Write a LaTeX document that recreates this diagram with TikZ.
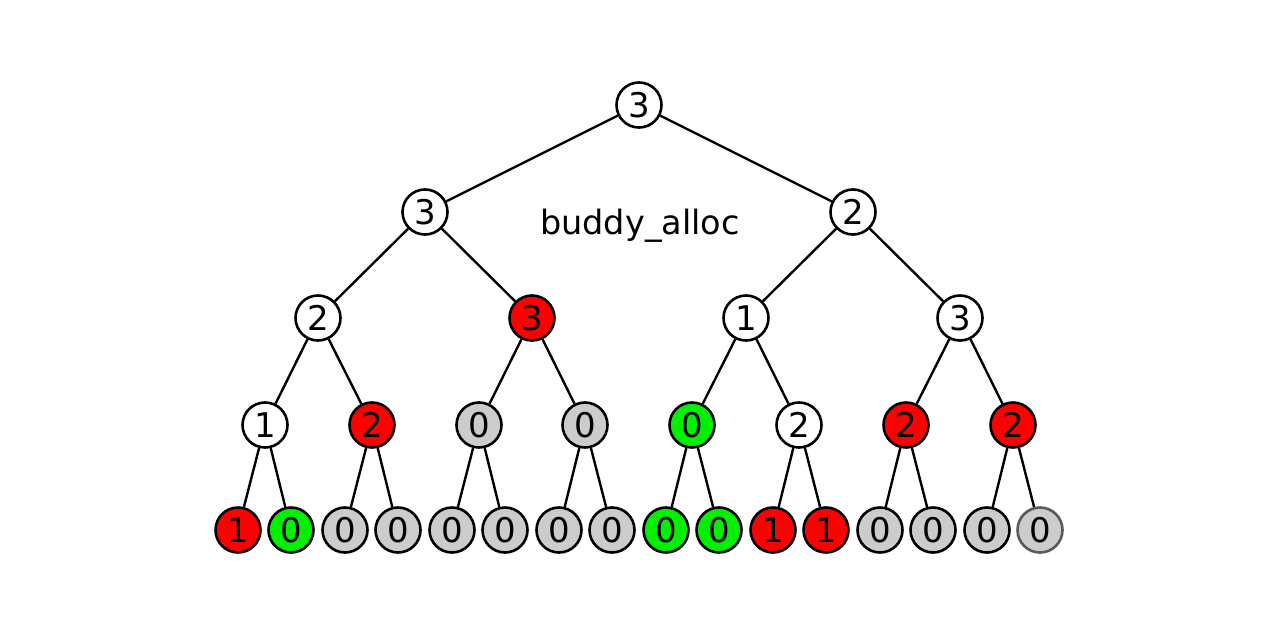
\documentclass[tikz,border=0pt]{standalone}
\usepackage{fontspec}
\setmainfont{DejaVu Sans}
\definecolor{nred}{HTML}{FF0000}
\definecolor{ngreen}{HTML}{00F000}
\definecolor{ngray}{HTML}{CCCCCC}
\definecolor{faint}{HTML}{5A5A5A}
\begin{document}
\begin{tikzpicture}[x=1pt,y=-1pt,
  tn/.style={circle,draw=black,line width=2.6pt,minimum size=45pt,inner sep=0pt,
    font=\fontsize{34}{40}\selectfont},
  wn/.style={tn,fill=white},
  rn/.style={tn,fill=nred},
  gn/.style={tn,fill=ngreen},
  yn/.style={tn,fill=ngray},
  edge/.style={line width=2.4pt,black}]
\useasboundingbox (0,0) rectangle (1280,640);
\node[wn] (r) at (639,105) {3};
\node[wn] (a) at (425,212) {3};
\node[wn] (b) at (853,212) {2};
\node[wn] (aa) at (318,318) {2};
\node[rn] (ab) at (532,318) {3};
\node[wn] (ba) at (746,318) {1};
\node[wn] (bb) at (960,318) {3};
\node[wn] (c1) at (265,425) {1};
\node[rn] (c2) at (372,425) {2};
\node[yn] (c3) at (479,425) {0};
\node[yn] (c4) at (585,425) {0};
\node[gn] (c5) at (692,425) {0};
\node[wn] (c6) at (799,425) {2};
\node[rn] (c7) at (906,425) {2};
\node[rn] (c8) at (1013,425) {2};
\node[rn] (d1) at (238,530) {1};
\node[gn] (d2) at (291,530) {0};
\node[yn] (d3) at (345,530) {0};
\node[yn] (d4) at (398,530) {0};
\node[yn] (d5) at (452,530) {0};
\node[yn] (d6) at (505,530) {0};
\node[yn] (d7) at (559,530) {0};
\node[yn] (d8) at (612,530) {0};
\node[gn] (d9) at (666,530) {0};
\node[gn] (d10) at (719,530) {0};
\node[rn] (d11) at (773,530) {1};
\node[rn] (d12) at (826,530) {1};
\node[yn] (d13) at (880,530) {0};
\node[yn] (d14) at (933,530) {0};
\node[yn] (d15) at (987,530) {0};
\node[yn,draw=faint] (d16) at (1040,530) {0};
\node[font=\fontsize{33.5}{40}\selectfont] (lbl) at (640,226) {buddy\_alloc};
\draw[edge] (r)--(a) (r)--(b);
\draw[edge] (a)--(aa) (a)--(ab) (b)--(ba) (b)--(bb);
\draw[edge] (aa)--(c1) (aa)--(c2) (ab)--(c3) (ab)--(c4)
  (ba)--(c5) (ba)--(c6) (bb)--(c7) (bb)--(c8);
\draw[edge] (c1)--(d1) (c1)--(d2) (c2)--(d3) (c2)--(d4)
  (c3)--(d5) (c3)--(d6) (c4)--(d7) (c4)--(d8)
  (c5)--(d9) (c5)--(d10) (c6)--(d11) (c6)--(d12)
  (c7)--(d13) (c7)--(d14) (c8)--(d15) (c8)--(d16);
\end{tikzpicture}
\end{document}
